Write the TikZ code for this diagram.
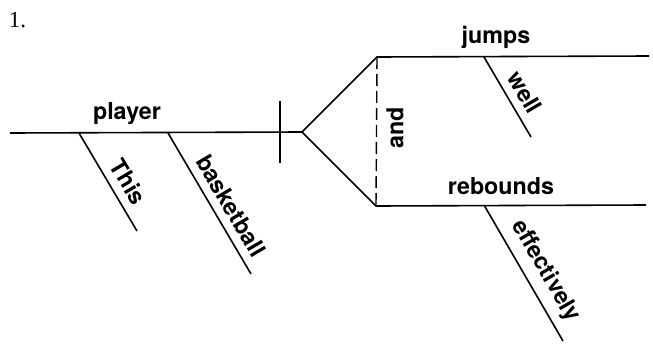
\documentclass[tikz,border=0pt]{standalone}
\usepackage{fontspec}
\setmainfont{TeX Gyre Heros}
\newfontfamily\serifnum{Liberation Serif}
\begin{document}
\begin{tikzpicture}[x=1pt,y=-1pt,line width=1.6pt,
  word/.style={font=\fontsize{23.3}{25}\selectfont\bfseries,inner sep=0pt},
  modword/.style={word,sloped,above=8pt},
  joinline/.style={dash pattern=on 12pt off 5pt,line width=1.4pt}]
\useasboundingbox (0,0) rectangle (653,343);
\node[font=\serifnum\fontsize{23}{25}\selectfont,anchor=base west,inner sep=0pt] (num) at (8,27) {1.};
% main line
\coordinate (mL) at (10,133);
\coordinate (fork) at (302,132);
\coordinate (dT) at (280,101);
\coordinate (dB) at (280,163);
\coordinate (uL) at (377,57);
\coordinate (uR) at (649,56);
\coordinate (lL) at (376,206);
\coordinate (lR) at (646,205);
\draw (mL) -- (fork);
\draw (dT) -- (dB);
\draw (fork) -- (uL) -- (uR);
\draw (fork) -- (lL) -- (lR);
\draw[joinline] (uL) -- (lL);
% words on base lines
\node[word,anchor=base] (player) at (127,119) {player};
\node[word,anchor=base] (jumps) at (496,43) {jumps};
\node[word,anchor=base] (rebounds) at (501,194) {rebounds};
\node[word,rotate=90] (and) at (395,128) {and};
% modifiers
\coordinate (thisA) at (79,133);
\coordinate (thisB) at (137,231);
\coordinate (bballA) at (168,133);
\coordinate (bballB) at (251,274);
\coordinate (wellA) at (484,57);
\coordinate (wellB) at (531,137);
\coordinate (effA) at (484,205);
\coordinate (effB) at (563,341);
\draw (thisA) -- node[modword,pos=.59] (this) {This} (thisB);
\draw (bballA) -- node[modword,pos=.58] (bball) {basketball} (bballB);
\draw (wellA) -- node[modword,pos=.55] (well) {well} (wellB);
\draw (effA) -- node[modword,pos=.56] (eff) {effectively} (effB);
\end{tikzpicture}
\end{document}
